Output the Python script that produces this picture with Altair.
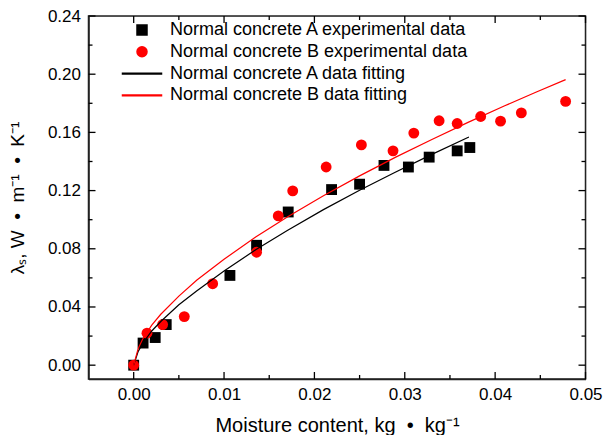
import altair as alt
import pandas as pd

LABEL_A = "Normal concrete A experimental data"
LABEL_B = "Normal concrete B experimental data"
FIT_A = "Normal concrete A data fitting"
FIT_B = "Normal concrete B data fitting"
SERIES = [LABEL_A, LABEL_B, FIT_A, FIT_B]

a_x = [0.0, 0.00104, 0.00238, 0.0036, 0.01065, 0.0136, 0.0171, 0.0219, 0.025,
       0.0277, 0.0304, 0.0327, 0.0358, 0.0372]
a_y = [0.0, 0.0152, 0.019, 0.0279, 0.0617, 0.0824, 0.1053, 0.1207, 0.1244,
       0.1373, 0.1362, 0.143, 0.1473, 0.1496]
b_x = [0.0, 0.00147, 0.0032, 0.0056, 0.00874, 0.0136, 0.016, 0.0176, 0.0213,
       0.0252, 0.0287, 0.031, 0.0338, 0.0358, 0.0384, 0.0406, 0.0429, 0.0478]
b_y = [0.0, 0.022, 0.0279, 0.0334, 0.056, 0.0776, 0.1026, 0.1198, 0.1362,
       0.1514, 0.1473, 0.1595, 0.168, 0.1661, 0.1709, 0.1677, 0.1734, 0.1813]

# fitted curves
fa_x = [0.0, 0.0005, 0.001, 0.002, 0.003, 0.005, 0.007, 0.010, 0.0135, 0.017,
        0.021, 0.025, 0.029, 0.033, 0.0371]
fa_y = [0.0, 0.0095, 0.0150, 0.0235, 0.0300, 0.0415, 0.0512, 0.0648, 0.0793,
        0.0926, 0.1069, 0.1202, 0.1328, 0.1449, 0.1568]
fb_x = [0.0, 0.0005, 0.001, 0.002, 0.003, 0.005, 0.007, 0.010, 0.0135, 0.017,
        0.021, 0.025, 0.029, 0.033, 0.037, 0.041, 0.0445, 0.0478]
fb_y = [0.0, 0.0115, 0.0180, 0.0275, 0.0350, 0.0475, 0.0585, 0.0728, 0.0881,
        0.1018, 0.1165, 0.1301, 0.1430, 0.1551, 0.1669, 0.1781, 0.1876, 0.1963]

x_lim = [-0.005, 0.05]
y_lim = [-0.0095, 0.24]
x_major = [0.0, 0.01, 0.02, 0.03, 0.04, 0.05]
x_minor = [0.005, 0.015, 0.025, 0.035, 0.045]
y_major = [0.0, 0.04, 0.08, 0.12, 0.16, 0.20, 0.24]
y_minor = [0.02, 0.06, 0.10, 0.14, 0.18, 0.22]

W, H = 497, 363
FONT = "Liberation Sans"
NB = "\u00a0"
LINE_PATH = "M-3.9,-0.08L3.9,-0.08L3.9,0.08L-3.9,0.08Z"

pts = pd.DataFrame({
    "x": a_x + b_x,
    "y": a_y + b_y,
    "series": [LABEL_A] * len(a_x) + [LABEL_B] * len(b_x),
})
fits = pd.DataFrame({
    "x": fa_x + fb_x,
    "y": fa_y + fb_y,
    "series": [FIT_A] * len(fa_x) + [FIT_B] * len(fb_x),
})

x_scale = alt.Scale(domain=x_lim, nice=False, zero=False)
y_scale = alt.Scale(domain=y_lim, nice=False, zero=False)
color_scale = alt.Scale(domain=SERIES, range=["#000000", "#ff0000", "#000000", "#ff0000"])
shape_scale = alt.Scale(domain=SERIES, range=["square", "circle", LINE_PATH, LINE_PATH])

legend = alt.Legend(
    title=None, orient="none", legendX=44.5, legendY=5,
    labelFont=FONT, labelFontSize=18, labelColor="black", labelLimit=500,
    symbolSize=100, symbolOpacity=1, rowPadding=3.8, labelOffset=19,
    padding=0,
)

x_title = f"Moisture content, kg{NB}{NB}•{NB}{NB}kg⁻¹"
y_title = f"λₛ,{NB}W{NB}{NB}•{NB}{NB}m⁻¹{NB}{NB}•{NB}{NB}K⁻¹"

x_axis = alt.Axis(
    values=x_major, format=".2f", title=x_title,
    ticks=False, tickSize=0, domain=True, domainColor="#222222", domainWidth=1.5,
    grid=False, labelFlush=False,
    labelOverlap=False, labelPadding=7, labelFont=FONT, labelFontSize=17,
    labelColor="black", titleFont=FONT, titleFontSize=20,
    titleFontWeight="normal", titleColor="black", titlePadding=13,
)
y_axis = alt.Axis(
    values=y_major, format=".2f", title=y_title,
    ticks=False, tickSize=0, domain=True, domainColor="#222222", domainWidth=1.5,
    grid=False, labelFlush=False,
    labelOverlap=False, labelPadding=8, labelFont=FONT, labelFontSize=17,
    labelColor="black", titleFont=FONT, titleFontSize=19,
    titleFontWeight="normal", titleColor="black", titlePadding=20,
)

points = alt.Chart(pts).mark_point(filled=True, opacity=1, size=118).encode(
    x=alt.X("x:Q", scale=x_scale, axis=x_axis),
    y=alt.Y("y:Q", scale=y_scale, axis=y_axis),
    color=alt.Color("series:N", scale=color_scale, legend=legend),
    shape=alt.Shape("series:N", scale=shape_scale, legend=legend),
)

lines = alt.Chart(fits).mark_line(strokeWidth=1.2).encode(
    x=alt.X("x:Q", scale=x_scale),
    y=alt.Y("y:Q", scale=y_scale),
    color=alt.Color("series:N", scale=color_scale, legend=legend),
    detail="series:N",
)

# plot frame: rectangle spanning the axis limits
box = pd.DataFrame({"x": [x_lim[0]], "x2": [x_lim[1]], "y": [y_lim[0]], "y2": [y_lim[1]]})
frame = alt.Chart(box).mark_rect(fillOpacity=0, stroke="#222222", strokeWidth=1.5).encode(
    x=alt.X("x:Q", scale=x_scale), x2="x2:Q",
    y=alt.Y("y:Q", scale=y_scale), y2="y2:Q",
)

def xticks(vals, length):
    df = pd.DataFrame({"x": vals})
    base = alt.Chart(df).mark_rule(color="black", strokeWidth=1.3)
    bottom = base.encode(x=alt.X("x:Q", scale=x_scale), y=alt.value(H), y2=alt.value(H - length))
    top = base.encode(x=alt.X("x:Q", scale=x_scale), y=alt.value(0), y2=alt.value(length))
    return [bottom, top]

def yticks(vals, length):
    df = pd.DataFrame({"y": vals})
    base = alt.Chart(df).mark_rule(color="black", strokeWidth=1.3)
    left = base.encode(y=alt.Y("y:Q", scale=y_scale), x=alt.value(0), x2=alt.value(length))
    right = base.encode(y=alt.Y("y:Q", scale=y_scale), x=alt.value(W), x2=alt.value(W - length))
    return [left, right]

layers = ([points, lines, frame] + xticks(x_major, 7) + xticks(x_minor, 4)
          + yticks(y_major, 7) + yticks(y_minor, 4))

chart = alt.layer(*layers).properties(
    width=W, height=H, background="white",
    autosize=alt.AutoSizeParams(type="none"),
    padding={"left": 80.5, "top": 8, "right": 17, "bottom": 56},
)

chart.save("out.html", embed_options={"renderer": "svg", "actions": False})
